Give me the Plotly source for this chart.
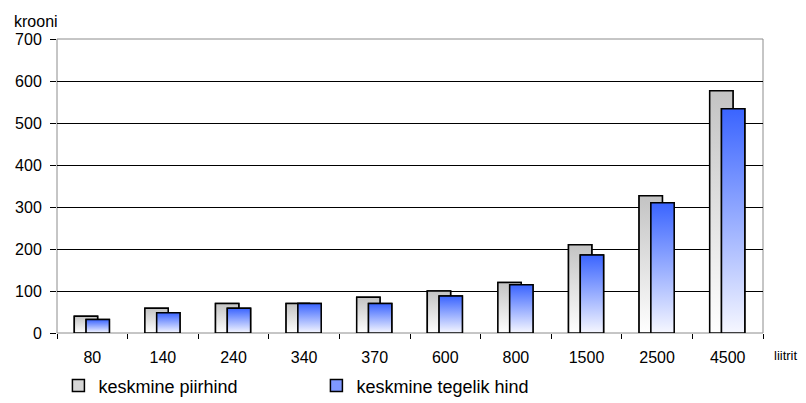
import plotly.graph_objects as go

categories = ["80", "140", "240", "340", "370", "600", "800", "1500", "2500", "4500"]
piirhind = [40, 59, 70, 70, 85, 100, 120, 210, 327, 577]
tegelik = [32, 48, 59, 70, 70, 88, 115, 186, 310, 534]
series_names = ["keskmine piirhind", "keskmine tegelik hind"]
y_ticks = [0, 100, 200, 300, 400, 500, 600, 700]

FONT = "Liberation Sans, Arial, sans-serif"
BAR_W = 0.33
OFFSETS = [-0.255, -0.088]
TOP_COLORS = ["#c3c3c3", "#3a64ff"]
BOTTOM_COLORS = ["#ffffff", "#f6f7ff"]
LEGEND_COLORS = ["#d6d6d6", "#7f98ff"]

idx = list(range(len(categories)))
fig = go.Figure()

for s, (vals, name) in enumerate(zip([piirhind, tegelik], series_names)):
    off = OFFSETS[s]
    # real bar trace (geometry + legend)
    fig.add_trace(go.Bar(
        x=idx, y=vals, name=name, width=BAR_W, offset=off,
        marker=dict(color=LEGEND_COLORS[s], line=dict(color="black", width=1.5)),
        zorder=2 * s, hoverinfo="skip",
    ))
    # gradient overlay for each bar
    for i, v in zip(idx, vals):
        x0 = i + off
        x1 = x0 + BAR_W
        fig.add_trace(go.Scatter(
            x=[x0, x0, x1, x1, x0], y=[0, v, v, 0, 0],
            mode="lines", fill="toself",
            fillgradient=dict(type="vertical",
                              colorscale=[[0, BOTTOM_COLORS[s]], [1, TOP_COLORS[s]]]),
            line=dict(color="black", width=1.5),
            showlegend=False, hoverinfo="skip", zorder=2 * s + 1,
        ))

fig.update_layout(
    width=798, height=395,
    margin=dict(l=49, r=43, t=31, b=70, autoexpand=False),
    paper_bgcolor="white", plot_bgcolor="white",
    barmode="overlay",
    font=dict(family=FONT, size=16, color="black"),
    showlegend=True,
    legend=dict(orientation="h", x=0.002, xanchor="left", y=-0.18, yanchor="middle",
                font=dict(family=FONT, size=18, color="black"),
                entrywidth=213, entrywidthmode="pixels",
                bgcolor="rgba(0,0,0,0)"),
    xaxis=dict(
        range=[-0.5, 9.5], tickvals=idx, ticktext=categories, ticks="",
        showgrid=False, zeroline=False, showline=True, linecolor="black", linewidth=1,
        ticklabelstandoff=10, automargin=False,
        minor=dict(tickvals=[i - 0.5 for i in range(len(categories) + 1)],
                   ticks="outside", ticklen=5, tickcolor="black", tickwidth=1, showgrid=False),
        fixedrange=True,
    ),
    yaxis=dict(
        range=[0, 700], tickvals=y_ticks, ticktext=[str(t) for t in y_ticks],
        ticks="outside", ticklen=6, tickcolor="black", tickwidth=1,
        showgrid=False, zeroline=False, showline=True, linecolor="black", linewidth=1,
        ticklabelstandoff=5, automargin=False,
        minor=dict(tickvals=y_ticks[1:-1], showgrid=True, gridcolor="black", gridwidth=1, ticks=""),
        fixedrange=True,
    ),
    shapes=[dict(type="rect", xref="paper", yref="paper", x0=0, x1=1, y0=0, y1=1,
                 line=dict(color="#8c8c8c", width=1), layer="below")],
    annotations=[
        dict(text="krooni", xref="paper", yref="paper", x=-0.03, y=1.058,
             xanchor="center", yanchor="middle", showarrow=False,
             font=dict(family=FONT, size=16, color="black")),
        dict(text="liitrit", xref="paper", yref="paper", x=1.032, y=-0.075,
             xanchor="center", yanchor="middle", showarrow=False,
             font=dict(family=FONT, size=13, color="black")),
    ],
)

fig.write_html("out.html")
